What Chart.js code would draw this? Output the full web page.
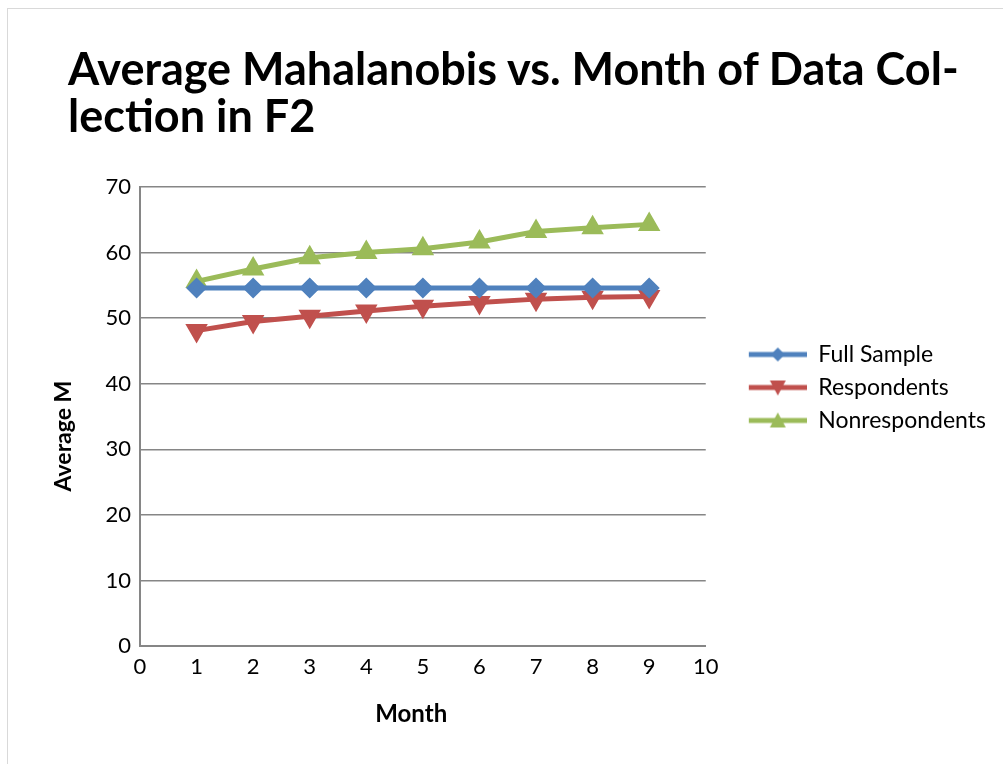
<!DOCTYPE html>
<html>
<head>
<meta charset="utf-8">
<script src="https://cdn.jsdelivr.net/npm/chart.js@4.4.1/dist/chart.umd.min.js"></script>
<style>
  html, body { margin: 0; padding: 0; background: #fff; }
  #wrap { position: relative; width: 1003px; height: 764px; overflow: hidden; }
  #frame { position: absolute; left: 7px; top: 8px; width: 1010px; height: 780px; border: 1px solid #d9d9d9; }
  #title { position: absolute; left: 68px; top: 45px; font-family: Lato, "Open Sans", sans-serif; font-weight: bold;
           font-size: 45px; line-height: 47px; color: #000; white-space: nowrap; }
  #chart { position: absolute; left: 0; top: 0; }
</style>
</head>
<body>
<div id="wrap">
  <div id="frame"></div>
  <canvas id="chart" width="1003" height="764"></canvas>
  <div id="title">Average Mahalanobis vs. Month of Data Col-<br>lection in F2</div>
</div>
<script>
// months on the x axis
const months = [1, 2, 3, 4, 5, 6, 7, 8, 9];
// average Mahalanobis distance per series
const fullSample = [54.6, 54.6, 54.6, 54.6, 54.6, 54.6, 54.6, 54.6, 54.6];
const respondents = [48.1, 49.5, 50.3, 51.1, 51.8, 52.4, 52.9, 53.2, 53.3];
const nonrespondents = [55.6, 57.5, 59.2, 60.0, 60.6, 61.6, 63.2, 63.8, 64.3];
const seriesNames = ['Full Sample', 'Respondents', 'Nonrespondents'];

const blue = '#4f81bd', red = '#c0504d', green = '#9bbb59';

// legend sample: transparent gap, then a short line with the marker in the middle
function legendIcon(color, style) {
    const gap = 33, len = 58;
    const c = document.createElement('canvas');
    c.width = gap + len; c.height = 20;
    const g = c.getContext('2d');
    const mid = gap + len / 2;
    g.strokeStyle = color; g.lineWidth = 5;
    g.beginPath(); g.moveTo(gap, 10); g.lineTo(gap + len, 10); g.stroke();
    g.fillStyle = color;
    g.beginPath();
    if (style === 'diamond') {
        g.moveTo(mid, 3); g.lineTo(mid + 7, 10); g.lineTo(mid, 17); g.lineTo(mid - 7, 10);
    } else if (style === 'down') {
        g.moveTo(mid - 8, 3); g.lineTo(mid + 8, 3); g.lineTo(mid, 18);
    } else {
        g.moveTo(mid, 2); g.lineTo(mid + 8, 17); g.lineTo(mid - 8, 17);
    }
    g.closePath(); g.fill();
    return c;
}

function toPoints(values) {
    return values.map((v, i) => ({ x: months[i], y: v }));
}

const ctx = document.getElementById('chart').getContext('2d');
new Chart(ctx, {
    type: 'line',
    data: {
        datasets: [{
            label: seriesNames[0],
            data: toPoints(fullSample),
            borderColor: blue, backgroundColor: blue,
            borderWidth: 5, pointStyle: 'rectRot', pointRadius: 7, pointHoverRadius: 7,
            legendIcon: legendIcon(blue, 'diamond')
        }, {
            label: seriesNames[1],
            data: toPoints(respondents),
            borderColor: red, backgroundColor: red,
            borderWidth: 5, pointStyle: 'triangle', pointRotation: 180, pointRadius: 8, pointHoverRadius: 8,
            legendIcon: legendIcon(red, 'down')
        }, {
            label: seriesNames[2],
            data: toPoints(nonrespondents),
            borderColor: green, backgroundColor: green,
            borderWidth: 5, pointStyle: 'triangle', pointRadius: 8, pointHoverRadius: 8,
            legendIcon: legendIcon(green, 'up')
        }]
    },
    options: {
        responsive: false,
        animation: false,
        layout: { padding: { top: 187, left: 46, right: 7, bottom: 31 } },
        plugins: {
            title: { display: false },
            tooltip: { enabled: false },
            legend: {
                position: 'right',
                fullSize: false,
                align: 'start',
                maxWidth: 400,
                // empty title only used as a spacer above the items
                title: { display: true, text: '', font: { size: 10 }, padding: 67 },
                labels: {
                    usePointStyle: true,
                    pointStyleWidth: 91,
                    padding: 10,
                    color: '#000',
                    font: { family: 'Lato', size: 23 },
                    generateLabels: (chart) => chart.data.datasets.map((ds, i) => ({
                        text: ds.label,
                        fontColor: '#000',
                        pointStyle: ds.legendIcon,
                        fillStyle: ds.borderColor,
                        strokeStyle: ds.borderColor,
                        lineWidth: 0,
                        hidden: false,
                        datasetIndex: i
                    }))
                }
            }
        },
        scales: {
            x: {
                type: 'linear',
                min: 0, max: 10,
                ticks: { stepSize: 1, color: '#000', font: { family: 'Lato', size: 22 }, padding: 8 },
                grid: { display: false, drawTicks: false },
                border: { color: '#868686', width: 2 },
                title: { display: true, text: 'Month\u00a0\u00a0\u00a0\u00a0', color: '#000', font: { family: 'Lato', size: 24, weight: 'bold' }, padding: 4 },
                afterFit: (s) => { s.height = 87; }
            },
            y: {
                min: 0, max: 70,
                ticks: { stepSize: 10, color: '#000', font: { family: 'Lato', size: 22 }, padding: 9 },
                grid: { color: '#868686', lineWidth: 1.5, drawTicks: false },
                border: { color: '#868686', width: 2 },
                title: { display: true, text: 'Average M\u00a0\u00a0\u00a0\u00a0\u00a0\u00a0\u00a0', color: '#000', font: { family: 'Lato', size: 23, weight: 'bold' } },
                afterFit: (s) => { s.width = 94; }
            }
        }
    }
});
</script>
</body>
</html>
